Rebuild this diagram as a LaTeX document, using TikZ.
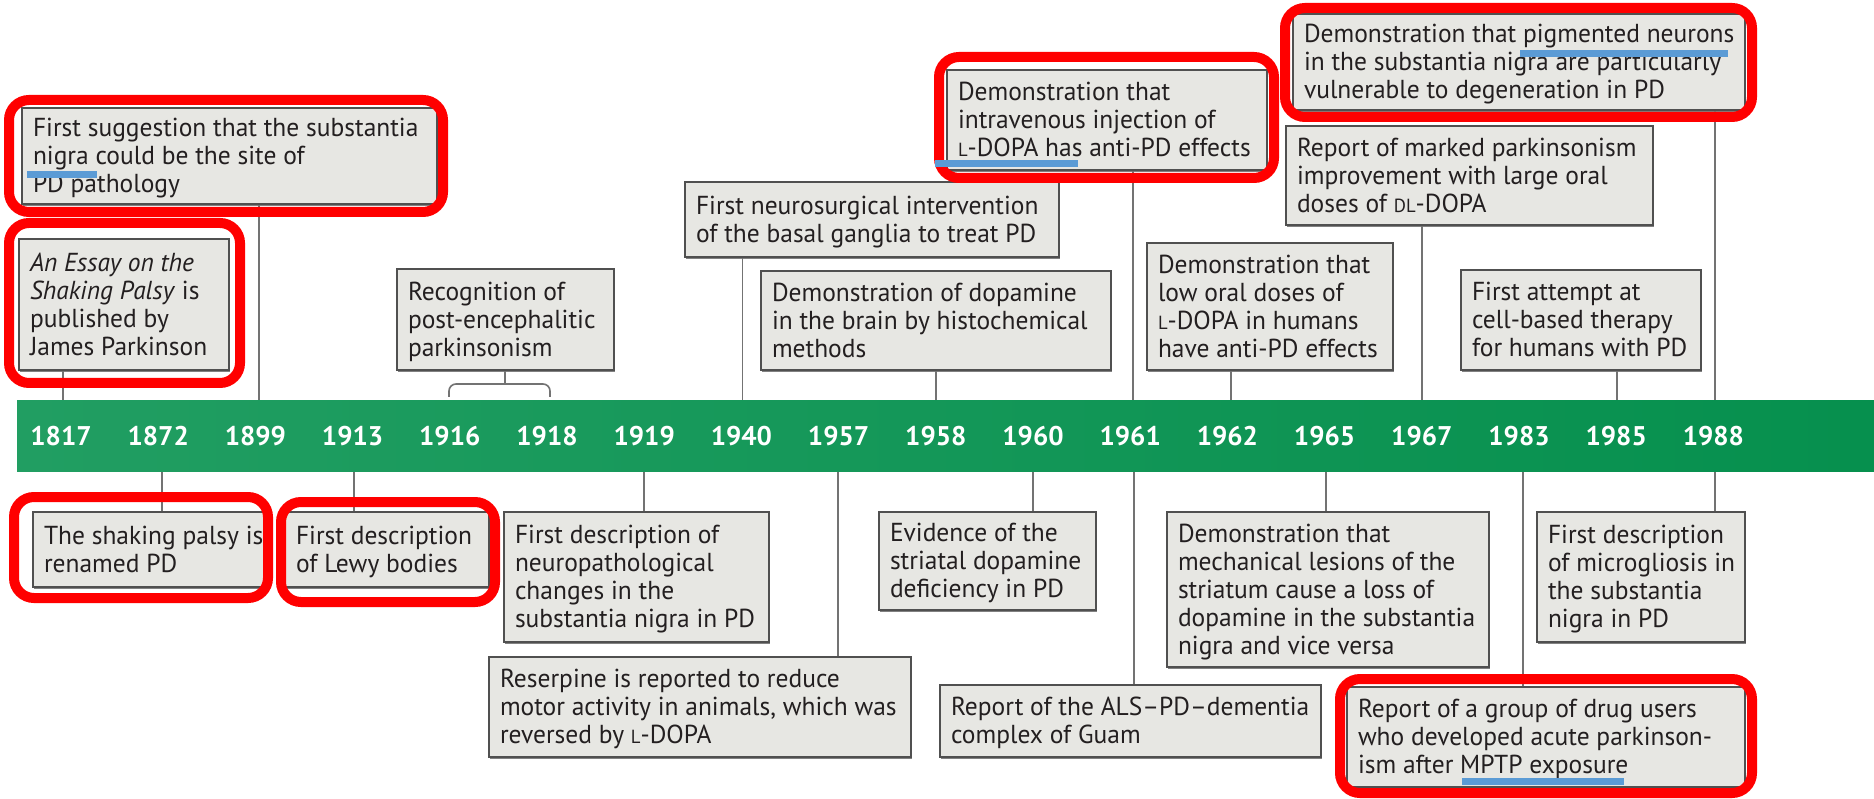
\documentclass[tikz,border=0pt]{standalone}
\usepackage{fontspec}
\setmainfont[FakeStretch=0.98]{PT Sans}
\newfontfamily\yearfont{PT Sans}
\usetikzlibrary{shadows}
\definecolor{barL}{RGB}{33,158,98}
\definecolor{barR}{RGB}{6,144,78}
\definecolor{boxfill}{RGB}{231,231,227}
\definecolor{boxborder}{RGB}{80,80,80}
\definecolor{linecol}{RGB}{115,115,115}
\definecolor{textcol}{RGB}{35,31,32}
\definecolor{hlred}{RGB}{255,0,0}
\definecolor{hlblue}{RGB}{91,155,213}
\newcommand\lsc[1]{{\fontsize{19}{20}\selectfont #1}}
\newcommand\evbox[6]{%
  \pgfmathsetmacro\evW{#4-#2}\pgfmathsetmacro\evH{#5-#3}%
  \pgfmathsetmacro\evT{#4-#2-22}%
  \node[evbox, minimum width=\evW pt, minimum height=\evH pt] (#1) at ({(#2+#4)/2},{(#3+#5)/2})
    {\makebox[\evT pt][l]{\raisebox{-3pt}[\height][\depth]{\begin{tabular}{@{}l@{}}#6\end{tabular}}}};}
\begin{document}
\begin{tikzpicture}[x=1pt,y=-1pt,
  evbox/.style={draw=boxborder, line width=1.6pt, fill=boxfill, text=textcol,
    font=\fontsize{26}{28}\selectfont, inner xsep=11pt, inner ysep=0pt,
    drop shadow={shadow xshift=1.2pt, shadow yshift=-1.6pt, fill=black!70, opacity=0.7}},
  conn/.style={draw=linecol, line width=1.6pt},
  yearlab/.style={text=white, font=\yearfont\bfseries\fontsize{27}{28}\selectfont},
  hl/.style={draw=hlred, line width=10pt, rounded corners=20pt},
  ul/.style={draw=hlblue, line width=7pt}]
\useasboundingbox[fill=white] (0,0) rectangle (1874,799);

% attachment points on the bar
\foreach \n/\x in {1817/63,1899/259,1916/505,1940/742.5,1958/936,1961/1133,1962/1231,1967/1422,1985/1617,1988/1715}
  \coordinate (a\n) at (\x,401);
\foreach \n/\x in {1872/162,1913/354,1919/644,1957/838,1960/1033,1961/1134,1965/1326,1983/1523,1988/1715}
  \coordinate (b\n) at (\x,471);

% event boxes (above)
\evbox{e1899}{22}{108}{437}{204}{First suggestion that the substantia\\nigra could be the site of\\PD pathology}
\evbox{e1817}{19}{239}{229}{370}{\textit{An Essay on the}\\\textit{Shaking Palsy} is\\published by\\James Parkinson}
\evbox{e1916}{397}{269}{614}{370}{Recognition of\\post-encephalitic\\parkinsonism}
\evbox{e1940}{685}{182}{1059}{257}{First neurosurgical intervention\\of the basal ganglia to treat PD}
\evbox{e1958}{761}{271}{1111}{370}{Demonstration of dopamine\\in the brain by histochemical\\methods}
\evbox{e1961a}{947}{70}{1267}{170}{Demonstration that\\intravenous injection of\\\lsc{L}-DOPA has anti-PD effects}
\evbox{e1988a}{1293}{14}{1745}{110}{Demonstration that pigmented neurons\\in the substantia nigra are particularly\\vulnerable to degeneration in PD}
\evbox{e1967}{1286}{126}{1653}{225}{Report of marked parkinsonism\\improvement with large oral\\doses of \lsc{DL}-DOPA}
\evbox{e1962}{1147}{243}{1393}{370}{Demonstration that\\low oral doses of\\\lsc{L}-DOPA in humans\\have anti-PD effects}
\evbox{e1985}{1461}{270}{1701}{370}{First attempt at\\cell-based therapy\\for humans with PD}

% event boxes (below)
\evbox{e1872}{33}{512}{264}{587}{The shaking palsy is\\renamed PD}
\evbox{e1913}{285}{512}{489}{587}{First description\\of Lewy bodies}
\evbox{e1919}{504}{512}{769}{642}{First description of\\neuropathological\\changes in the\\substantia nigra in PD}
\evbox{e1957}{489}{657}{911}{757}{Reserpine is reported to reduce\\motor activity in animals, which was\\reversed by \lsc{L}-DOPA}
\evbox{e1960}{879}{512}{1096}{610}{Evidence of the\\striatal dopamine\\deficiency in PD}
\evbox{e1961b}{940}{685}{1321}{757}{Report of the ALS--PD--dementia\\complex of Guam}
\evbox{e1965}{1167}{512}{1489}{667}{Demonstration that\\mechanical lesions of the\\striatum cause a loss of\\dopamine in the substantia\\nigra and vice versa}
\evbox{e1983}{1347}{687}{1745}{787}{Report of a group of drug users\\who developed acute parkinson-\\ism after MPTP exposure}
\evbox{e1988b}{1537}{512}{1745}{642}{First description\\of microgliosis in\\the substantia\\nigra in PD}

% connectors
\draw[conn] (a1817) -- (a1817 |- e1817.south);
\draw[conn] (a1899) -- (a1899 |- e1899.south);
\draw[conn] (a1940) -- (a1940 |- e1940.south);
\draw[conn] (a1958) -- (a1958 |- e1958.south);
\draw[conn] (a1961) -- (a1961 |- e1961a.south);
\draw[conn] (a1962) -- (a1962 |- e1962.south);
\draw[conn] (a1967) -- (a1967 |- e1967.south);
\draw[conn] (a1985) -- (a1985 |- e1985.south);
\draw[conn] (a1988) -- (a1988 |- e1988a.south);
\coordinate (brL) at (449,397);
\coordinate (brR) at (550,397);
\draw[conn] (e1916.south -| a1916) -- (a1916 |- 0,384);
\draw[conn, rounded corners=7pt] (brL) -- (brL |- 0,384) -- (brR |- 0,384) -- (brR);
\draw[conn] (b1872) -- (b1872 |- e1872.north);
\draw[conn] (b1913) -- (b1913 |- e1913.north);
\draw[conn] (b1919) -- (b1919 |- e1919.north);
\draw[conn] (b1957) -- (b1957 |- e1957.north);
\draw[conn] (b1960) -- (b1960 |- e1960.north);
\draw[conn] (b1961) -- (b1961 |- e1961b.north);
\draw[conn] (b1965) -- (b1965 |- e1965.north);
\draw[conn] (b1983) -- (b1983 |- e1983.north);
\draw[conn] (b1988) -- (b1988 |- e1988b.north);

% timeline bar
\shade[left color=barL, right color=barR] (17,401) rectangle (1874,471);
\foreach \yr [count=\i from 0] in {1817,1872,1899,1913,1916,1918,1919,1940,1957,1958,1960,1961,1962,1965,1967,1983,1985,1988}
  \node[yearlab] (y\yr) at ({61+97.2*\i},436) {\yr};

% highlights
\draw[hl] (9,100) rectangle (443,212);
\draw[hl] (9,223) rectangle (240,383);
\draw[hl] (939,57) rectangle (1274,178);
\draw[hl] (1285,8) rectangle (1752,117);
\draw[hl] (14,497) rectangle (268,598);
\draw[hl] (281,502) rectangle (495,602);
\draw[hl] (1340,679) rectangle (1752,793);
\draw[ul] (27,175) -- (97,175);
\draw[ul] (935,164) -- (1078,164);
\draw[ul] (1520,54) -- (1728,54);
\draw[ul] (1462,781) -- (1624,781);
\end{tikzpicture}
\end{document}
